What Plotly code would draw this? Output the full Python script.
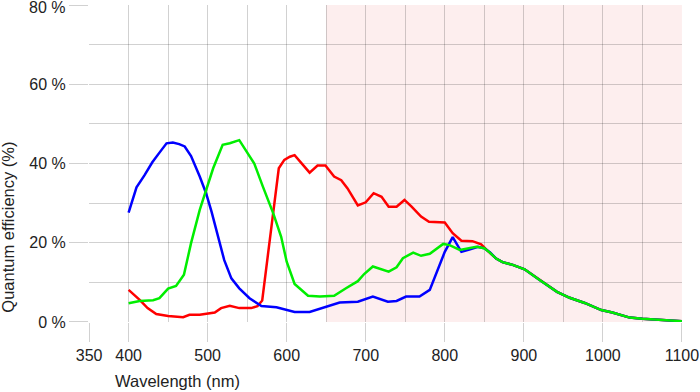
import plotly.graph_objects as go

# Shared long-wavelength tail (all three channels coincide)
tail_nm = [865, 873, 886, 901, 920, 942, 958, 977, 998, 1012, 1034, 1050, 1100]
tail_qe = [16.0, 15.1, 14.4, 13.3, 10.6, 7.6, 6.1, 4.8, 3.0, 2.4, 1.1, 0.8, 0.2]

red_nm = [400, 414, 424, 435, 450, 469, 477, 490, 509, 517, 528, 540, 555, 563, 569, 580, 590,
          597, 604, 610, 629, 639, 649, 660, 669, 677, 690, 700, 710, 720, 729, 739, 749, 758,
          770, 780, 800, 810, 821, 835, 846, 855]
red_qe = [8.1, 5.6, 3.5, 2.0, 1.5, 1.2, 1.8, 1.8, 2.4, 3.5, 4.1, 3.5, 3.5, 4.0, 5.4, 23.2, 38.8,
          40.9, 41.7, 42.1, 37.7, 39.5, 39.5, 36.7, 35.8, 33.7, 29.4, 30.2, 32.5, 31.6, 29.1, 29.1,
          30.8, 29.1, 26.6, 25.3, 25.1, 22.4, 20.5, 20.4, 19.6, 17.8]

blue_nm = [400, 410, 420, 430, 440, 448, 456, 464, 471, 479, 490, 498, 505, 513, 521, 530, 540,
           553, 568, 587, 610, 629, 646, 667, 690, 709, 728, 739, 751, 768, 781, 789, 800, 810,
           821, 831, 842, 850, 857]
blue_qe = [27.6, 34.0, 37.0, 40.3, 43.0, 45.1, 45.3, 44.9, 44.3, 41.9, 36.7, 32.5, 27.8, 21.5,
           15.6, 11.0, 8.5, 6.0, 4.0, 3.7, 2.5, 2.5, 3.5, 4.9, 5.1, 6.4, 5.1, 5.3, 6.4, 6.4, 8.1,
           12.3, 17.7, 21.4, 17.7, 18.3, 19.0, 18.6, 17.6]

green_nm = [400, 414, 431, 439, 450, 460, 470, 479, 490, 498, 507, 519, 528, 540, 559, 570, 583,
            593, 600, 610, 627, 642, 660, 675, 690, 698, 709, 729, 739, 747, 760, 770, 781, 798,
            806, 819, 840, 850, 857]
green_qe = [4.7, 5.3, 5.5, 6.0, 8.4, 9.1, 11.9, 19.9, 28.3, 33.3, 38.8, 44.7, 45.1, 45.9, 40.0,
            34.1, 27.4, 21.5, 15.2, 9.6, 6.6, 6.4, 6.6, 8.5, 10.3, 12.1, 14.0, 12.7, 13.8, 16.1,
            17.5, 16.7, 17.2, 19.7, 19.4, 18.2, 19.0, 18.6, 17.5]

x_ticks = [350, 400, 500, 600, 700, 800, 900, 1000, 1100]
y_ticks = [0, 20, 40, 60, 80]
nir_band = [650, 1100]

FONT = "Liberation Sans, Arial, sans-serif"
GRID = "rgba(0,0,0,0.18)"
TXT = "#222222"

fig = go.Figure()
for nm, qe, col in [(red_nm, red_qe, "#ff0000"),
                    (blue_nm, blue_qe, "#0000ff"),
                    (green_nm, green_qe, "#00ee00")]:
    fig.add_trace(go.Scatter(x=nm + tail_nm, y=qe + tail_qe, mode="lines",
                             line=dict(color=col, width=2.5), showlegend=False,
                             hoverinfo="skip", cliponaxis=False))

fig.add_shape(type="rect", xref="x", yref="y", x0=nir_band[0], x1=nir_band[1], y0=0, y1=80,
              fillcolor="#fdeeee", line=dict(width=0), layer="below")

# top tick label drawn as annotation so it can sit fully inside the page
y_ticktext = [f"{v} %" if v != y_ticks[-1] else "" for v in y_ticks]

fig.update_layout(
    width=700, height=392,
    margin=dict(l=89, r=18, t=5, b=70),
    paper_bgcolor="white", plot_bgcolor="white",
    font=dict(family=FONT, size=16, color=TXT),
    xaxis=dict(range=[349.9, 1100.1], tickmode="array", tickvals=x_ticks,
               ticktext=[str(v) for v in x_ticks], automargin=False,
               ticklabeloverflow="allow",
               ticks="outside", ticklen=19, tickcolor=GRID, tickwidth=1,
               showgrid=False,
               minor=dict(dtick=50, tick0=350, showgrid=True, gridcolor=GRID, gridwidth=1,
                          ticks=""),
               zeroline=False, showline=False),
    yaxis=dict(range=[-0.01, 80.01], tickmode="array", tickvals=y_ticks,
               ticktext=y_ticktext, automargin=False,
               ticklabeloverflow="allow",
               ticks="outside", ticklen=19, tickcolor=GRID, tickwidth=1,
               showgrid=False,
               minor=dict(dtick=10, tick0=0, showgrid=True, gridcolor=GRID, gridwidth=1,
                          ticks=""),
               zeroline=False, showline=False),
    annotations=[
        dict(text=f"{y_ticks[-1]} %", xref="paper", yref="y", x=0, y=y_ticks[-1],
             xanchor="right", yanchor="middle", xshift=-22, yshift=-2.5, showarrow=False,
             font=dict(family=FONT, size=16, color=TXT)),
        dict(text="Wavelength (nm)", xref="paper", yref="paper", x=0.150, y=-0.186,
             xanchor="center", yanchor="middle", showarrow=False,
             font=dict(family=FONT, size=16.5, color=TXT)),
        dict(text="Quantum efficiency (%)", xref="paper", yref="paper", x=-0.137, y=0.30,
             xanchor="center", yanchor="middle", showarrow=False, textangle=-90,
             font=dict(family=FONT, size=16.5, color=TXT)),
    ],
)

fig.write_html("out.html", config={"displayModeBar": False},
               post_script="document.body.style.margin='0';")
